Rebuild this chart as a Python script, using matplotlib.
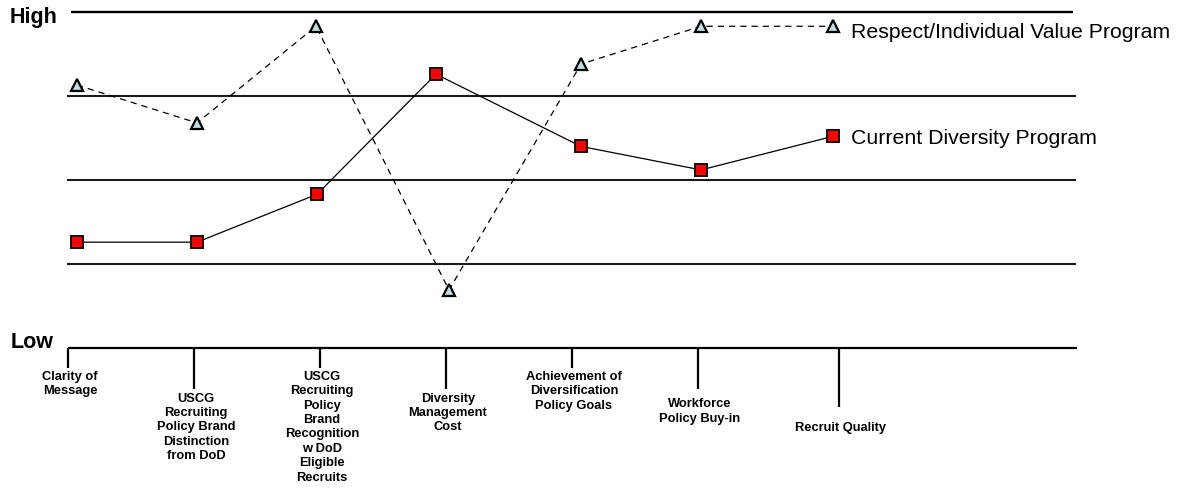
import matplotlib
matplotlib.use("Agg")
from matplotlib import pyplot as plt

plt.rcParams['font.family'] = ['Liberation Sans', 'DejaVu Sans']

# criteria along the bottom scale
categories = [
    "Clarity of\nMessage",
    "USCG\nRecruiting\nPolicy Brand\nDistinction\nfrom DoD",
    "USCG\nRecruiting\nPolicy\nBrand\nRecognition\nw DoD\nEligible\nRecruits",
    "Diversity\nManagement\nCost",
    "Achievement of\nDiversification\nPolicy Goals",
    "Workforce\nPolicy Buy-in",
    "Recruit Quality",
]

# ratings on a 0 (Low) .. 4 (High) scale
respect_values = [3.13, 2.68, 3.83, 0.69, 3.38, 3.83, 3.83]
current_values = [1.26, 1.26, 1.83, 3.26, 2.40, 2.12, 2.52]
series_names = ["Respect/Individual Value Program", "Current Diversity Program"]

# layout (figure pixels along x)
tick_x = [68, 194, 320, 446, 572, 698, 839]
tick_len = [0.24, 0.49, 0.24, 0.49, 0.24, 0.49, 0.70]
label_top = [-0.27, -0.53, -0.27, -0.53, -0.27, -0.60, -0.88]
respect_x = [77, 197, 316, 449, 581, 701, 833]
current_x = [77, 197, 317, 436, 581, 701, 833]

W, H = 1183, 493
fig = plt.figure(figsize=(W / 100, H / 100), dpi=100)
ax = fig.add_axes([0, 0, 1, 1])
ax.set_xlim(0, W)
# 84 px per unit, Low line 348 px from the top
ax.set_ylim((348 - H) / 84, 348 / 84)
ax.axis('off')

# horizontal bands
ax.plot([71, 1073], [4, 4], color='black', lw=1.7, solid_capstyle='butt')
for lvl in (1, 2, 3):
    ax.plot([67, 1076], [lvl, lvl], color='#1a1a1a', lw=1.5, solid_capstyle='butt')
ax.plot([68, 1077], [0, 0], color='black', lw=1.6, solid_capstyle='butt')

# category ticks and labels
for x, ln, top, lab in zip(tick_x, tick_len, label_top, categories):
    ax.plot([x, x], [0, -ln], color='black', lw=1.6, solid_capstyle='butt')
    ax.text(x + 2, top, lab, ha='center', va='top', fontsize=9.3,
            fontweight='bold', linespacing=1.27)

ax.text(10, 4.0 - 0.07, "High", ha='left', va='center', fontsize=15.5, fontweight='bold')
ax.text(11, 0.07, "Low", ha='left', va='center', fontsize=15.5, fontweight='bold')

ax.plot(respect_x, respect_values, color='black', lw=0.9, ls=(0, (5, 4)),
        marker='^', markersize=9, markerfacecolor='#b9dfe2',
        markeredgecolor='black', markeredgewidth=1.6, zorder=3)
ax.plot(current_x, current_values, color='black', lw=0.9,
        marker='s', markersize=8, markerfacecolor='#ff0000',
        markeredgecolor='#111111', markeredgewidth=1.4, zorder=3)

ax.text(851, respect_values[-1] - 0.07, series_names[0], ha='left', va='center', fontsize=15.3)
ax.text(851, current_values[-1] - 0.03, series_names[1], ha='left', va='center', fontsize=15.3)

fig.savefig("out.png", dpi=100)
